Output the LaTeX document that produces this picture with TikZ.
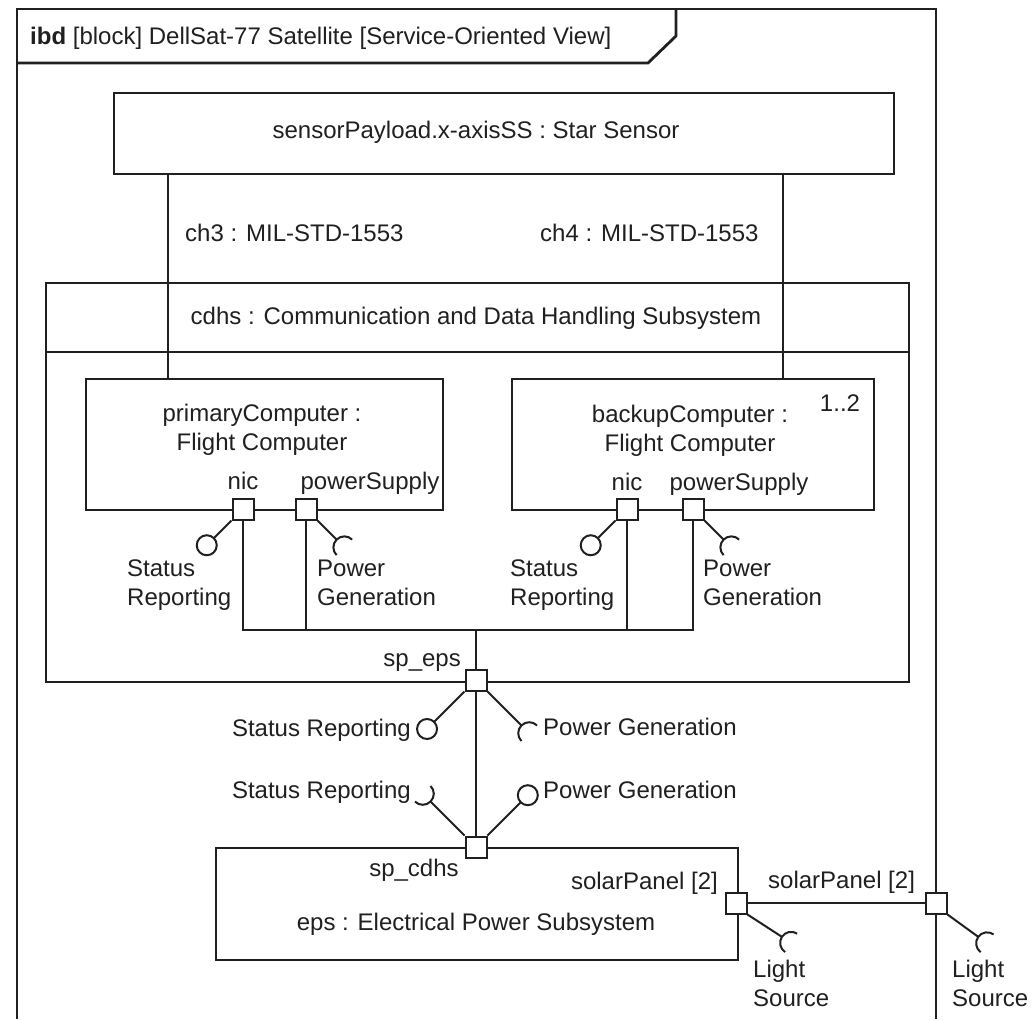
\documentclass[tikz,border=0pt]{standalone}
\usepackage{fontspec}
\setmainfont{Liberation Sans}
\usetikzlibrary{calc}

\definecolor{ink}{HTML}{202020}

% provided interface: stem from a port corner ending in a ball
\newcommand{\lollipopAt}[3]{%
  \pgfmathsetmacro\lolR{#3+10}%
  \draw[conn] (#1) -- ++(#2:#3);
  \draw[conn] ($(#1)+(#2:\lolR)$) circle[radius=10];}
% required interface: stem from a port corner ending in a half-circle socket
\newcommand{\socketAt}[3]{%
  \pgfmathsetmacro\sktA{#2+90}\pgfmathsetmacro\sktB{#2+270}\pgfmathsetmacro\sktR{#3+11}%
  \draw[conn] (#1) -- ++(#2:#3);
  \draw[conn] ($(#1)+(#2:\sktR)+(\sktA:11)$) arc[start angle=\sktA, end angle=\sktB, radius=11];}

\begin{document}
\begin{tikzpicture}[x=1pt, y=-1pt,
  every node/.style={text=ink},
  conn/.style={draw=ink, line width=2pt},
  frame/.style={draw=ink, line width=2.8pt},
  box/.style={draw=ink, line width=2pt, fill=white, anchor=north west, inner sep=0pt},
  port/.style={draw=ink, line width=2pt, fill=white, minimum size=21pt, inner sep=0pt},
  lbl/.style={font=\fontsize{24}{29}\selectfont, inner sep=0pt}]

\useasboundingbox[fill=white] (0,0) rectangle (1032,1019);

% diagram frame and its header
\draw[frame] (17,1019) -- (17,9) -- (936,9) -- (936,1019);
\draw[frame] (17,63) -- (648,63) -- (676,36) -- (676,9);
\node[lbl, anchor=base west] (title) at (30,45) {\textbf{ibd} [block] DellSat-77 Satellite [Service-Oriented View]};

% parts
\node[box, minimum width=780pt, minimum height=81pt] (star) at (113,92) {};
\node[box, minimum width=863pt, minimum height=399pt] (cdhs) at (45,282) {};
\draw[conn] (cdhs.west |- 0,352) -- (cdhs.east |- 0,352);
\node[box, minimum width=357pt, minimum height=131pt] (prim) at (85,378) {};
\node[box, minimum width=362pt, minimum height=131pt] (back) at (511,378) {};
\node[box, minimum width=522pt, minimum height=112pt] (eps) at (215,847) {};

\node[lbl, anchor=base] (starlbl) at (476,139) {sensorPayload.x-axisSS : Star Sensor};
\node[lbl, anchor=base] (cdhslbl) at (476,324) {cdhs : Communication and Data Handling Subsystem};
\node[lbl, anchor=north, align=center] (primlbl) at (262,403.5) {primaryComputer :\\Flight Computer};
\node[lbl, anchor=north, align=center] (backlbl) at (690,404.5) {backupComputer :\\Flight Computer};
\node[lbl, anchor=base] (multlbl) at (840,411) {1..2};
\node[lbl, anchor=base] (epslbl) at (476,930) {eps : Electrical Power Subsystem};

% channels from the star sensor
\coordinate (chA) at (168,0);
\coordinate (chB) at (783,0);
\draw[conn] (star.south -| chA) -- (prim.north -| chA);
\draw[conn] (star.south -| chB) -- (back.north -| chB);
\node[lbl, anchor=base west] (ch3lbl) at (185,241) {ch3 : MIL-STD-1553};
\node[lbl, anchor=base west] (ch4lbl) at (540,241) {ch4 : MIL-STD-1553};

% ports
\node[port] (pnic) at (243,509) {};
\node[port] (pps)  at (306,509) {};
\node[port] (bnic) at (627,509) {};
\node[port] (bps)  at (693,509) {};
\node[port] (speps)  at (476,680) {};
\node[port] (spcdhs) at (476,847) {};
\node[port] (spin)  at (736,903) {};
\node[port] (spout) at (936,903) {};

\node[lbl, anchor=base] (pniclbl) at (243,489) {nic};
\node[lbl, anchor=base] (ppslbl) at (370,489) {powerSupply};
\node[lbl, anchor=base] (bniclbl) at (627,490) {nic};
\node[lbl, anchor=base] (bpslbl) at (739,490) {powerSupply};
\node[lbl, anchor=base east] (spepslbl) at (461,666) {sp\_eps};
\node[lbl, anchor=base] (spcdhslbl) at (414,876) {sp\_cdhs};
\node[lbl, anchor=base east] (spinlbl) at (718,889) {solarPanel [2]};
\node[lbl, anchor=base west] (spoutlbl) at (768,888) {solarPanel [2]};

% internal bus joining the computers to sp_eps
\coordinate (bus) at (476,630);
\draw[conn] (pnic.south) -- (pnic.south |- bus) -- (bps.south |- bus) -- (bps.south);
\draw[conn] (pps.south) -- (pps.south |- bus);
\draw[conn] (bnic.south) -- (bnic.south |- bus);
\draw[conn] (bus) -- (speps.north);
\draw[conn] (speps.south) -- (spcdhs.north);
\draw[conn] (spin.east) -- (spout.west);

% interfaces
\lollipopAt{pnic.south west}{135}{25}
\socketAt{pps.south east}{45}{27}
\lollipopAt{bnic.south west}{135}{25}
\socketAt{bps.south east}{45}{27}
\lollipopAt{speps.south west}{135}{43}
\socketAt{speps.south east}{45}{48}
\socketAt{spcdhs.north west}{225}{48}
\lollipopAt{spcdhs.north east}{315}{47}
\socketAt{spin.south east}{33}{41}
\socketAt{spout.south east}{36}{38}

\node[lbl, anchor=north west, align=left] (srA) at (127,559.5) {Status\\Reporting};
\node[lbl, anchor=north west, align=left] (pgA) at (317,559.5) {Power\\Generation};
\node[lbl, anchor=north west, align=left] (srB) at (510,559.5) {Status\\Reporting};
\node[lbl, anchor=north west, align=left] (pgB) at (703,559.5) {Power\\Generation};
\node[lbl, anchor=base east] (srC) at (411,736) {Status Reporting};
\node[lbl, anchor=base west] (pgC) at (543,735) {Power Generation};
\node[lbl, anchor=base east] (srD) at (411,798) {Status Reporting};
\node[lbl, anchor=base west] (pgD) at (543,798) {Power Generation};
\node[lbl, anchor=north west, align=left] (lsA) at (753,959.5) {Light\\Source};
\node[lbl, anchor=north west, align=left] (lsB) at (952,959.5) {Light\\Source};

\end{tikzpicture}
\end{document}
